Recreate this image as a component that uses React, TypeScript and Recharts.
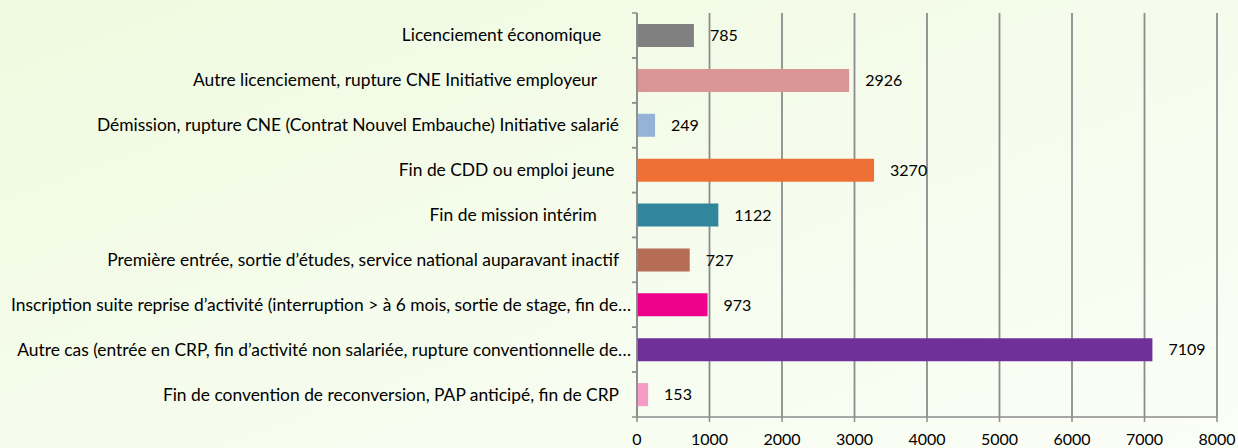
import React from 'react';
import { BarChart, Bar, XAxis, YAxis, CartesianGrid, Cell, LabelList } from 'recharts';

const categories = [
  'Licenciement économique    ',
  'Autre licenciement, rupture CNE Initiative employeur     ',
  'Démission, rupture CNE (Contrat Nouvel Embauche) Initiative salarié',
  'Fin de CDD ou emploi jeune ',
  'Fin de mission intérim     ',
  'Première entrée, sortie d’études, service national auparavant inactif',
  'Inscription suite reprise d’activité (interruption > à 6 mois, sortie de stage, fin de…',
  'Autre cas (entrée en CRP, fin d’activité non salariée, rupture conventionnelle de…',
  'Fin de convention de reconversion, PAP anticipé, fin de CRP',
];

const values = [785, 2926, 249, 3270, 1122, 727, 973, 7109, 153];

const colors = [
  '#808080',
  '#D99694',
  '#95B3D7',
  '#EE7034',
  '#31859C',
  '#B66C55',
  '#EC008C',
  '#70309A',
  '#F59BC6',
];

const xTicks = [0, 1000, 2000, 3000, 4000, 5000, 6000, 7000, 8000];

const data = categories.map((name, i) => ({ name, value: values[i], color: colors[i] }));

const FONT = 'Lato, "Open Sans", sans-serif';
const AXIS = '#8C8C8C';
const HALF_BAND = 404 / 18;

const CategoryTick = (props: any) => {
  const { x, y, payload } = props;
  const half = payload && payload.offset ? payload.offset : HALF_BAND;
  const ax = x + 18;
  const label: string = payload.value;
  // excel lets the truncated labels run a bit further right
  const dx = label.endsWith('…') ? 12 : 0;
  return (
    <g>
      <line x1={ax - 5} x2={ax} y1={y - half} y2={y - half} stroke={AXIS} strokeWidth={1.5} />
      <line x1={ax - 5} x2={ax} y1={y + half} y2={y + half} stroke={AXIS} strokeWidth={1.5} />
      <text
        x={x + dx}
        y={y}
        dy={6}
        textAnchor="end"
        fill="#000"
        fontSize={17.4}
        fontFamily={FONT}
        style={{ whiteSpace: 'pre' }}
      >
        {label}
      </text>
    </g>
  );
};

export default function App() {
  return (
    <div
      style={{
        position: 'absolute',
        left: 0,
        top: 0,
        width: 1238,
        height: 448,
        background: 'linear-gradient(160deg, #EFFADF 0%, #F5FCEC 50%, #FBFEF7 100%)',
      }}
    >
      <BarChart
        layout="vertical"
        width={1238}
        height={448}
        data={data}
        margin={{ top: 13, right: 21, bottom: 1, left: 0 }}
        barSize={23}
      >
        <CartesianGrid horizontal={false} stroke={AXIS} strokeWidth={1.8} />
        <XAxis
          type="number"
          domain={[0, 8000]}
          ticks={xTicks}
          height={30}
          stroke={AXIS}
          strokeWidth={1.5}
          tickSize={5}
          tickMargin={12}
          tick={{ fill: '#000', fontSize: 16, fontFamily: FONT }}
        />
        <YAxis
          type="category"
          dataKey="name"
          width={637}
          stroke={AXIS}
          strokeWidth={1.5}
          tickLine={false}
          tickSize={5}
          tickMargin={13}
          tick={<CategoryTick />}
          interval={0}
        />
        <Bar dataKey="value" isAnimationActive={false}>
          {data.map((d, i) => (
            <Cell key={i} fill={d.color} />
          ))}
          <LabelList
            dataKey="value"
            position="right"
            offset={16}
            fill="#000"
            fontSize={16}
            fontFamily={FONT}
          />
        </Bar>
      </BarChart>
    </div>
  );
}
